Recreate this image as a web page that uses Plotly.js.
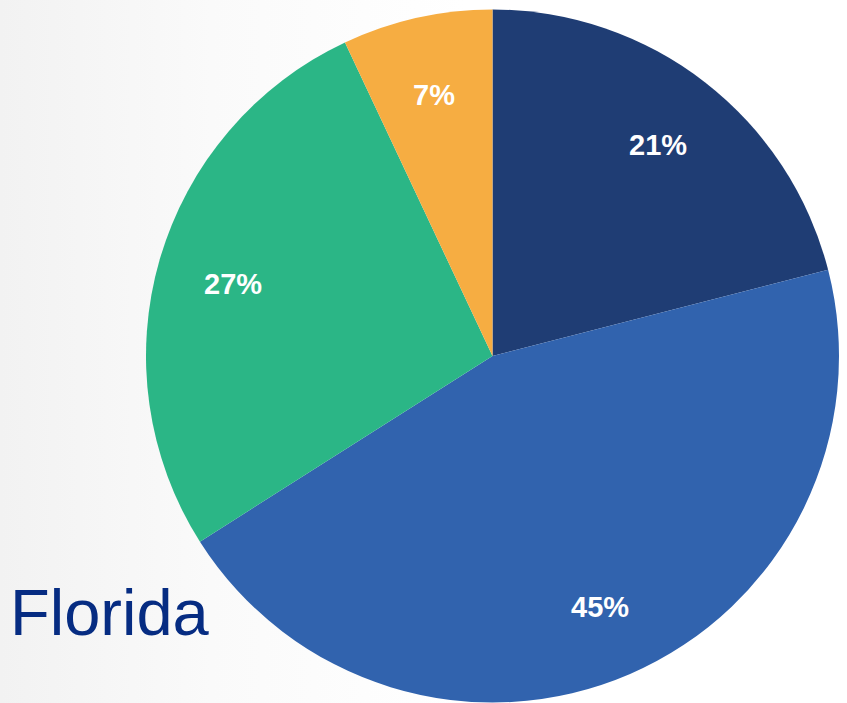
<!DOCTYPE html>
<html>
<head>
<meta charset="utf-8">
<script src="https://cdn.plot.ly/plotly-3.0.1.min.js"></script>
<style>
html, body { margin: 0; padding: 0; width: 847px; height: 703px; overflow: hidden;
  background: linear-gradient(to right, #f2f2f2 0%, #fafafa 25%, #ffffff 55%, #ffffff 100%); }
#chart { width: 847px; height: 703px; }
</style>
</head>
<body>
<div id="chart"></div>
<script>
const categories = ["Segment A", "Segment B", "Segment C", "Segment D"];
const values = [21, 45, 27, 7];
const labelsText = ["21%", "45%", "27%", "7%"];
const colors = ["#1f3d74", "#3163ae", "#2bb686", "#f6ad42"];
const stateName = "Florida";

const W = 847, H = 703;
const cx = 492.5, cy = 356, R = 346.5;
const labelRadius = 0.78;

const trace = {
  type: "pie",
  labels: categories,
  values: values,
  textinfo: "none",
  sort: false,
  direction: "clockwise",
  rotation: 0,
  marker: { colors: colors, line: { width: 0 } },
  domain: { x: [(cx - R) / W, (cx + R) / W], y: [(H - cy - R) / H, (H - cy + R) / H] },
  showlegend: false,
  hoverinfo: "none"
};

// Slice labels placed along each slice's bisector, computed from the values
const total = values.reduce((a, b) => a + b, 0);
let cum = 0;
const sliceLabels = values.map((v, i) => {
  const mid = (cum + v / 2) / total * 2 * Math.PI;
  cum += v;
  const px = cx + labelRadius * R * Math.sin(mid);
  const py = cy - labelRadius * R * Math.cos(mid);
  return {
    text: "<b>" + labelsText[i] + "</b>",
    xref: "paper", yref: "paper",
    x: px / W, y: (H - py) / H,
    xanchor: "center", yanchor: "middle",
    yshift: -3,
    showarrow: false,
    font: { family: "Liberation Sans, Arial, sans-serif", size: 29, color: "#ffffff" }
  };
});

const layout = {
  width: W, height: H,
  margin: { l: 0, r: 0, t: 0, b: 0 },
  paper_bgcolor: "rgba(0,0,0,0)",
  plot_bgcolor: "rgba(0,0,0,0)",
  showlegend: false,
  annotations: sliceLabels.concat([{
    text: stateName,
    xref: "paper", yref: "paper",
    x: 8 / W, y: (H - 612) / H,
    xanchor: "left", yanchor: "middle",
    showarrow: false,
    font: { family: "Liberation Sans, Arial, sans-serif", size: 65, color: "#062c82" }
  }])
};

Plotly.newPlot("chart", [trace], layout, { staticPlot: true, displayModeBar: false });
</script>
</body>
</html>
